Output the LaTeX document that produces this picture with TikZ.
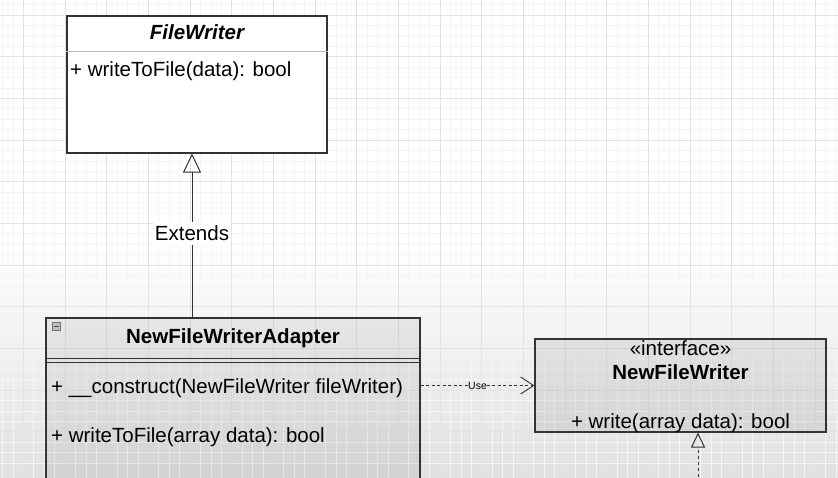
\documentclass[tikz,border=0pt]{standalone}
\usepackage{fontspec}
\setmainfont{Liberation Sans}
\usetikzlibrary{arrows.meta,positioning}

\definecolor{edgegray}{HTML}{333333}
\definecolor{rulegray}{HTML}{BBBBBB}

\tikzstyle{classbox} = [rectangle, draw=edgegray, line width=1.1pt, inner sep=0pt]
\tikzstyle{member} = [anchor=west, inner sep=0pt, font=\fontsize{20.5}{24}\selectfont]
\tikzstyle{title} = [inner sep=0pt, font=\fontsize{20.5}{24}\selectfont\bfseries]
\tikzstyle{inherit} = [line width=1pt, draw=edgegray, -{Triangle[open,length=19pt,width=18pt,line width=1pt]}]
\tikzstyle{realize} = [line width=1pt, draw=edgegray, dash pattern=on 3pt off 3pt, -{Triangle[open,length=15pt,width=14pt,line width=1pt]}]
\tikzstyle{usearrow} = [line width=0.7pt, draw=edgegray, dash pattern=on 3pt off 2.5pt, -{Straight Barb[length=13pt,width=17pt,line width=0.9pt]}]

\begin{document}
\begin{tikzpicture}[x=1pt,y=-1pt]
	\useasboundingbox (0,0) rectangle (838,478);
	\clip (0,0) rectangle (838,478);
	% paper with grid
	\fill[white] (0,0) rectangle (838,478);
	\shade[top color=white, bottom color=black!12] (0,240) rectangle (838,478);
	\draw[black!4, line width=0.6pt, shift={(23.33,15)}] (-40,-30) grid[step=10.4167pt] (830,480);
	\draw[black!11, line width=0.8pt, shift={(23.33,15)}] (-40,-30) grid[step=41.6667pt] (830,480);

	% FileWriter
	\node (filewriter) [classbox, fill=white, minimum width=260pt, minimum height=137pt] at (197,84.5) {};
	\draw[rulegray, line width=0.8pt] ([yshift=-36pt]filewriter.north west) -- ([yshift=-36pt]filewriter.north east);
	\node (fwtitle) [title, font=\fontsize{20.5}{24}\selectfont\bfseries\itshape] at (197,32) {FileWriter};
	\node (fwop) [member] at (70,71) {+ writeToFile(data): bool};

	% NewFileWriterAdapter
	\node (adapter) [classbox, fill=black, fill opacity=0.06, minimum width=374pt, minimum height=182pt] at (233,409) {};
	\draw[edgegray, line width=0.9pt] ([yshift=-41pt]adapter.north west) -- ([yshift=-41pt]adapter.north east);
	\draw[edgegray, line width=0.9pt] ([yshift=-44.5pt]adapter.north west) -- ([yshift=-44.5pt]adapter.north east);
	\node (collapse) [draw=black!55, fill=black!25, line width=0.6pt, minimum size=8pt, inner sep=0pt] at (56,326) {};
	\draw[black!70, line width=0.8pt] ([xshift=-2.5pt]collapse.center) -- ([xshift=2.5pt]collapse.center);
	\node (adtitle) [title] at (233,338) {NewFileWriterAdapter};
	\node (adctor) [member] at (51,388) {+ \_\_construct(NewFileWriter fileWriter)};
	\node (adop) [member] at (51,437) {+ writeToFile(array data): bool};

	% NewFileWriter interface
	\node (iface) [classbox, fill=black, fill opacity=0.07, minimum width=291pt, minimum height=93pt] at (680.5,385.5) {};
	\node (ifstereo) [inner sep=0pt, font=\fontsize{20.5}{24}\selectfont] at (680.5,348) {«interface»};
	\node (iftitle) [title] at (680.5,372) {NewFileWriter};
	\node (ifop) [inner sep=0pt, font=\fontsize{20.5}{24}\selectfont] at (680.5,423) {+ write(array data): bool};

	% connectors
	\coordinate (fwbase) at ([xshift=-5pt]filewriter.south);
	\draw[inherit] (fwbase |- adapter.north) -- node[fill=white, inner xsep=2pt, inner ysep=4pt, yshift=2pt, font=\fontsize{20.5}{24}\selectfont] {Extends} (fwbase);
	\draw[usearrow] (adapter.east |- iface.west) -- node[fill=white!93!black, inner sep=0.5pt, font=\fontsize{10.5}{12}\selectfont] {Use} (iface.west);
	\coordinate (implfoot) at (698,495);
	\draw[realize] (implfoot) -- (implfoot |- iface.south);
\end{tikzpicture}
\end{document}
